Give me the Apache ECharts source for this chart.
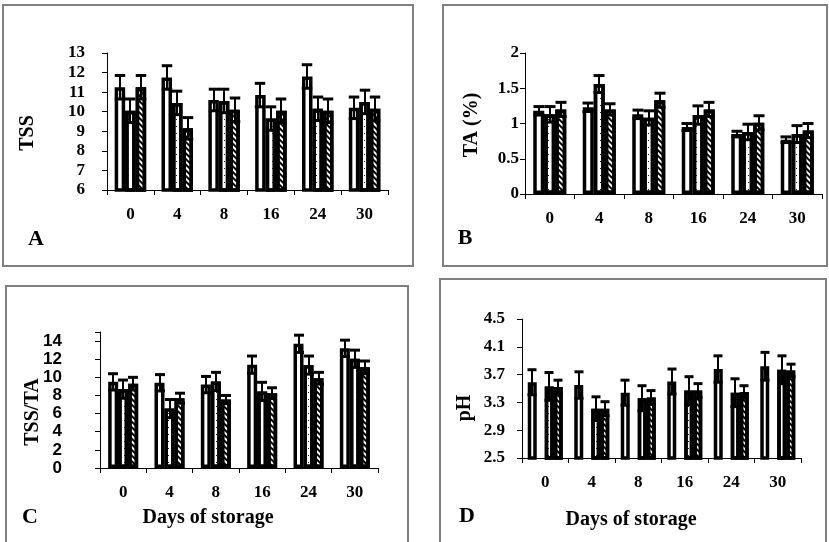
<!DOCTYPE html>
<html>
<head>
<meta charset="utf-8">
<script src="https://cdn.jsdelivr.net/npm/echarts@6/dist/echarts.min.js"></script>
<style>
  html, body { margin: 0; padding: 0; background: #fff; }
  #main { width: 829px; height: 542px; }
</style>
</head>
<body>
<div id="main"></div>
<script>
// 贮藏天数
var days = ['0', '4', '8', '16', '24', '30'];

// A: TSS
var tss1 = [11.25, 11.75, 10.6, 10.85, 11.8, 10.2];
var tss2 = [10.05, 10.45, 10.55, 9.65, 10.15, 10.5];
var tss3 = [11.25, 9.15, 10.1, 10.05, 10.05, 10.15];
var tssErr1 = [0.6, 0.6, 0.55, 0.6, 0.6, 0.55];
var tssErr2 = [0.6, 0.6, 0.6, 0.6, 0.6, 0.6];
var tssErr3 = [0.6, 0.55, 0.6, 0.6, 0.6, 0.6];

// B: TA (%)
var ta1 = [1.18, 1.23, 1.13, 0.95, 0.85, 0.77];
var ta2 = [1.13, 1.56, 1.08, 1.12, 0.88, 0.85];
var ta3 = [1.2, 1.2, 1.33, 1.2, 1.01, 0.9];
var taErr1 = [0.06, 0.06, 0.06, 0.05, 0.04, 0.04];
var taErr2 = [0.11, 0.12, 0.1, 0.13, 0.11, 0.12];
var taErr3 = [0.1, 0.08, 0.1, 0.1, 0.1, 0.1];

// C: TSS/TA
var ratio1 = [9.5, 9.4, 9.2, 11.4, 13.7, 13.2];
var ratio2 = [8.7, 6.55, 9.55, 8.45, 11.35, 12.05];
var ratio3 = [9.3, 7.7, 7.55, 8.25, 9.9, 11.1];
var ratioErr1 = [0.9, 0.9, 0.9, 0.95, 0.95, 0.9];
var ratioErr2 = [1.0, 1.0, 1.0, 1.0, 1.0, 0.95];
var ratioErr3 = [0.7, 0.55, 0.45, 0.6, 0.65, 0.7];

// D: pH
var ph1 = [3.59, 3.55, 3.44, 3.6, 3.78, 3.82];
var ph2 = [3.53, 3.21, 3.36, 3.47, 3.44, 3.77];
var ph3 = [3.52, 3.21, 3.37, 3.47, 3.45, 3.76];
var phErr1 = [0.18, 0.19, 0.18, 0.18, 0.19, 0.2];
var phErr2 = [0.2, 0.17, 0.18, 0.2, 0.2, 0.2];
var phErr3 = [0.1, 0.1, 0.1, 0.1, 0.09, 0.09];

var SERIF = '"Liberation Serif", "Times New Roman", serif';
var SANS = '"Liberation Sans", Arial, sans-serif';

// 三种填充：空白、点、斜线
var fillPlain = { color: '#fff' };
var fillDots = {
  color: '#fff',
  decal: { symbol: 'rect', symbolSize: 1, color: '#222', dashArrayX: [1, 3], dashArrayY: [1, 6] }
};
var fillHatch = {
  color: '#fff',
  decal: { symbol: 'rect', symbolSize: 1, color: '#000', dashArrayX: [1, 0], dashArrayY: [1.3, 1.7], rotation: Math.PI / 4 }
};

// 每根柱子的中心偏移（相对类目中心）
function barCenters (widths) {
  var total = widths.reduce(function (a, b) { return a + b }, 0);
  var pos = -total / 2;
  return widths.map(function (w) {
    var c = pos + w / 2;
    pos += w;
    return c;
  });
}

function pairs (vals, errs) {
  return vals.map(function (v, i) { return [i, v, errs[i]] });
}

// 误差线
function errorSeries (idx, vals, errs, offset, capW) {
  return {
    type: 'custom',
    xAxisIndex: idx,
    yAxisIndex: idx,
    z: 5,
    clip: false,
    data: pairs(vals, errs),
    renderItem: function (params, api) {
      var hi = api.coord([api.value(0), api.value(1) + api.value(2)]);
      var lo = api.coord([api.value(0), api.value(1) - api.value(2)]);
      var cx = Math.round(hi[0] + offset);
      var s = { stroke: '#000', lineWidth: 2 };
      var c = { stroke: '#000', lineWidth: 3 };
      return {
        type: 'group',
        children: [
          { type: 'line', shape: { x1: cx, y1: hi[1], x2: cx, y2: lo[1] }, style: s },
          { type: 'line', shape: { x1: cx - capW / 2, y1: hi[1], x2: cx + capW / 2, y2: hi[1] }, style: c },
          { type: 'line', shape: { x1: cx - capW / 2, y1: lo[1], x2: cx + capW / 2, y2: lo[1] }, style: c }
        ]
      };
    }
  };
}

function barSeries (idx, vals, width, fill) {
  return {
    type: 'bar',
    xAxisIndex: idx,
    yAxisIndex: idx,
    data: vals,
    barWidth: width,
    barGap: 0,
    itemStyle: Object.assign({ borderColor: '#000', borderWidth: 3.5 }, fill)
  };
}

// 一个面板的柱子 + 误差线
function panelSeries (idx, groups, widths) {
  var centers = barCenters(widths);
  var list = [];
  var k = 0;
  widths.forEach(function (w, j) {
    var g = groups[k];
    if (g && g.slot === j) {
      list.push(barSeries(idx, g.vals, w, g.fill));
      list.push(errorSeries(idx, g.vals, g.errs, centers[j], w));
      k++;
    } else {
      // 占位
      list.push(barSeries(idx, days.map(function () { return null }), w, fillPlain));
    }
  });
  return list;
}

function xAxisOf (idx, size) {
  return {
    type: 'category',
    gridIndex: idx,
    data: days,
    axisLine: { lineStyle: { color: '#000', width: 1 } },
    axisTick: { show: true, length: 5, lineStyle: { color: '#000' } },
    axisLabel: { color: '#000', fontFamily: SERIF, fontWeight: 'bold', fontSize: size, margin: 16 }
  };
}

function yAxisOf (idx, min, max, step, margin, font, fmt) {
  return {
    type: 'value',
    gridIndex: idx,
    min: min,
    max: max,
    interval: step,
    axisLine: { show: true, lineStyle: { color: '#000', width: 1 } },
    axisTick: { show: true, length: 5, lineStyle: { color: '#000' } },
    splitLine: { show: false },
    axisLabel: {
      color: '#000', fontFamily: font, fontWeight: 'bold', fontSize: 17, margin: margin,
      formatter: fmt
    }
  };
}

function frame (x, y, w, h) {
  return { type: 'rect', shape: { x: x, y: y, width: w, height: h }, style: { fill: null, stroke: '#808080', lineWidth: 2 }, silent: true };
}

function label (text, x, y, size, rot) {
  return {
    type: 'text', x: x, y: y, rotation: rot || 0,
    style: { text: text, font: 'bold ' + size + 'px ' + SERIF, fill: '#000', align: 'center', verticalAlign: 'middle' }
  };
}

var series = []
  .concat(panelSeries(0, [
    { slot: 0, vals: tss1, errs: tssErr1, fill: fillPlain },
    { slot: 1, vals: tss2, errs: tssErr2, fill: fillDots },
    { slot: 2, vals: tss3, errs: tssErr3, fill: fillHatch }
  ], [10.5, 10.5, 10.5]))
  .concat(panelSeries(1, [
    { slot: 0, vals: ta1, errs: taErr1, fill: fillPlain },
    { slot: 1, vals: ta2, errs: taErr2, fill: fillDots },
    { slot: 2, vals: ta3, errs: taErr3, fill: fillHatch }
  ], [11, 11, 11]))
  .concat(panelSeries(2, [
    { slot: 0, vals: ratio1, errs: ratioErr1, fill: fillPlain },
    { slot: 1, vals: ratio2, errs: ratioErr2, fill: fillDots },
    { slot: 2, vals: ratio3, errs: ratioErr3, fill: fillHatch }
  ], [10, 10, 10]))
  .concat(panelSeries(3, [
    { slot: 0, vals: ph1, errs: phErr1, fill: fillPlain },
    { slot: 2, vals: ph2, errs: phErr2, fill: fillDots },
    { slot: 3, vals: ph3, errs: phErr3, fill: fillHatch }
  ], [9, 8, 9, 9]));

var option = {
  animation: false,
  backgroundColor: '#fff',
  grid: [
    { left: 107, top: 53, width: 281, height: 137, outerBoundsMode: 'none' },
    { left: 525, top: 53, width: 297, height: 141, outerBoundsMode: 'none' },
    { left: 100, top: 332, width: 278, height: 136, outerBoundsMode: 'none' },
    { left: 522, top: 319, width: 279, height: 139, outerBoundsMode: 'none' }
  ],
  xAxis: [xAxisOf(0, 17), xAxisOf(1, 17), xAxisOf(2, 17), xAxisOf(3, 17)],
  yAxis: [
    yAxisOf(0, 6, 13, 1, 22, SERIF),
    yAxisOf(1, 0, 2, 0.5, 6, SERIF),
    yAxisOf(2, 0, 15, 2, 38, SANS, function (v) { return v >= 15 ? '' : v }),
    yAxisOf(3, 2.5, 4.5, 0.4, 17, SERIF, function (v) { return v.toFixed(1) })
  ],
  series: series,
  graphic: [
    frame(3, 5, 410, 261),
    frame(443, 5, 384, 261),
    frame(6, 286, 402, 270),
    frame(440, 279, 386, 277),
    label('A', 36, 239, 22),
    label('B', 465, 238, 22),
    label('C', 30, 517, 22),
    label('D', 467, 516, 22),
    label('TSS', 28, 133, 20, Math.PI / 2),
    label('TA (%)', 472, 125, 20, Math.PI / 2),
    label('TSS/TA', 33, 412, 20, Math.PI / 2),
    label('pH', 465, 408, 20, Math.PI / 2),
    label('Days of storage', 208, 518, 20),
    label('Days of storage', 631, 520, 20)
  ]
};

var chart = echarts.init(document.getElementById('main'), null, { renderer: 'canvas' });
chart.setOption(option);
</script>
</body>
</html>
